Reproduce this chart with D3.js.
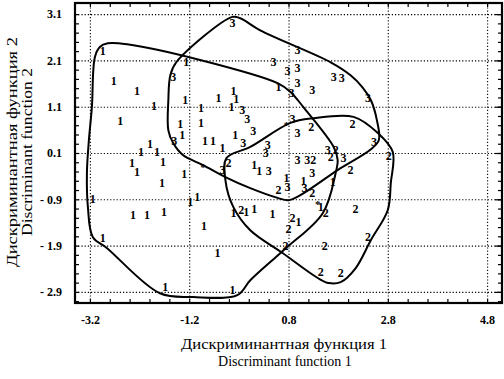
<!DOCTYPE html>
<html>
<head>
<meta charset="utf-8">
<script src="https://cdn.jsdelivr.net/npm/d3@7"></script>
<style>
  body { margin: 0; background: #fff; }
  text { font-family: "Liberation Serif", "DejaVu Serif", serif; }
</style>
</head>
<body>
<div class="chart"></div>
<script>
var svgWidth = 504;
var svgHeight = 379;

// tick values and labels
var xTicks = [-3.2, -1.2, 0.8, 2.8, 4.8];
var xTickLabels = ["-3.2", "-1.2", "0.8", "2.8", "4.8"];
var yTicks = [3.1, 2.1, 1.1, 0.1, -0.9, -1.9, -2.9];
var yTickLabels = ["3.1", "2.1", "1.1", "0.1", "- 0.9", "- 1.9", "- 2.9"];

// group 1 observations [x, y]
var group1 = [
  [-2.94, 2.30], [-2.72, 1.65], [-2.25, 1.44], [-1.91, 1.11], [-1.28, 1.24],
  [-1.26, 2.06], [-2.59, 0.79], [-1.38, 0.72], [-1.34, 0.49], [-0.96, 1.07],
  [-0.96, 0.75], [-0.61, 1.29], [-0.31, 1.44], [-0.25, 1.26], [-0.35, 1.09],
  [-0.88, 0.36], [-0.72, 0.36], [-0.53, 0.21], [-0.27, 0.49], [-2.17, 0.12],
  [-1.99, 0.29], [-1.85, 0.12], [-2.35, -0.12], [-2.25, -0.31], [-1.73, -0.10],
  [-1.30, -0.36], [-1.75, -0.55], [-3.14, -0.90], [-1.18, -0.96], [-1.04, -0.85],
  [-2.33, -1.24], [-2.05, -1.24], [-1.71, -1.18], [-0.90, -1.48], [-2.94, -1.74],
  [-0.63, -2.06], [-1.68, -2.80], [-0.33, -2.86], [-0.31, -1.20], [-0.05, -1.16],
  [0.11, -1.11], [0.11, -0.16], [0.21, -0.29], [0.60, 1.54], [0.76, -0.44],
  [1.10, -0.49], [0.48, -1.22], [1.00, -1.39], [1.45, -1.07], [1.69, -0.53]
];

// group 2 observations
var group2 = [
  [1.26, 0.66], [2.09, 0.72], [2.82, 0.03], [-0.41, -0.12], [1.75, 0.16],
  [1.30, -0.05], [1.65, 0.01], [2.05, -0.27], [0.60, -0.70], [1.28, -0.77],
  [1.55, -1.20], [2.15, -1.11], [-0.15, -1.13], [0.88, -1.31], [0.80, -1.54],
  [0.74, -1.91], [1.53, -1.91], [2.40, -1.72], [1.45, -2.47], [1.85, -2.49]
];

// group 3 observations
var group3 = [
  [-0.33, 2.91], [0.98, 2.32], [0.50, 2.08], [0.78, 1.87], [0.98, 1.93],
  [1.71, 1.74], [1.87, 1.72], [0.98, 1.61], [1.28, 1.46], [0.86, 1.39],
  [2.40, 1.29], [-1.52, 1.74], [-0.13, 1.03], [-0.03, 0.83], [0.09, 0.59],
  [-1.50, 0.36], [-0.11, 0.31], [0.88, 0.83], [0.98, 0.53], [0.38, 0.27],
  [0.34, 0.10], [0.98, -0.05], [1.18, -0.05], [1.59, 0.16], [1.91, -0.01],
  [2.52, 0.34], [0.78, -0.64], [1.12, -0.66], [1.28, -0.33], [0.40, -0.29],
  [-0.53, -0.27]
];

// group centroids
var centroids = [[-0.92, -0.14], [0.76, 0.77], [1.39, -0.94]];

// outlines round each group
var hull1 = [
  [-3.00, 2.39], [-2.84, 2.47], [-2.45, 2.45], [-0.98, 2.11], [0.58, 1.61],
  [0.84, 1.42], [1.10, 1.09], [1.71, 0.23], [1.79, -0.05], [1.75, -0.33],
  [1.49, -1.20], [0.70, -2.00], [0.03, -2.65], [-0.23, -2.97], [-1.12, -3.01],
  [-1.79, -2.93], [-2.86, -1.95], [-3.14, -1.72], [-3.24, -1.07], [-3.26, -0.33],
  [-3.22, 0.38], [-3.16, 1.09], [-3.10, 2.17]
];
var hull2 = [
  [-0.45, -0.01], [0.03, 0.23], [0.84, 0.75], [1.30, 0.85], [2.11, 0.88],
  [2.60, 0.53], [2.90, 0.12], [2.86, -0.55], [2.80, -1.13], [2.46, -1.78],
  [2.15, -2.39], [1.85, -2.69], [1.61, -2.71], [1.39, -2.60], [0.68, -2.06],
  [0.03, -1.57], [-0.31, -1.07], [-0.47, -0.49]
];
var hull3 = [
  [-0.33, 3.04], [-0.17, 3.01], [0.23, 2.75], [1.65, 2.06], [2.05, 1.78],
  [2.29, 1.52], [2.46, 1.24], [2.58, 0.81], [2.62, 0.38], [2.46, 0.18],
  [1.79, -0.27], [1.04, -0.81], [0.80, -0.92], [0.58, -0.87], [0.03, -0.66],
  [-0.47, -0.42], [-0.92, -0.16], [-1.32, 0.05], [-1.52, 0.31], [-1.62, 0.59],
  [-1.62, 1.24], [-1.58, 1.78], [-1.46, 2.06]
];

var margin = { top: 3, right: 2, bottom: 76, left: 75 };
var width = svgWidth - margin.left - margin.right;
var height = svgHeight - margin.top - margin.bottom;

var svg = d3.select(".chart")
  .append("svg")
  .attr("width", svgWidth)
  .attr("height", svgHeight);

var chartGroup = svg.append("g")
  .attr("transform", `translate(${margin.left}, ${margin.top})`);

var xScale = d3.scaleLinear().domain([-3.5, 5.1]).range([0, width]);
var yScale = d3.scaleLinear().domain([-3.14, 3.34]).range([height, 0]);

// dotted grid
chartGroup.append("g")
  .attr("transform", `translate(0, ${height})`)
  .call(d3.axisBottom(xScale).tickValues(xTicks).tickSize(-height).tickFormat(""))
  .call(g => g.select(".domain").remove())
  .selectAll("line")
  .attr("stroke", "#000")
  .attr("stroke-width", 1.1)
  .attr("stroke-dasharray", "1.2,2");

chartGroup.append("g")
  .call(d3.axisLeft(yScale).tickValues(yTicks).tickSize(-width).tickFormat(""))
  .call(g => g.select(".domain").remove())
  .selectAll("line")
  .attr("stroke", "#000")
  .attr("stroke-width", 1.1)
  .attr("stroke-dasharray", "1.2,2");

// minor ticks inside the frame
var xMinor = d3.range(-3.2, 5.0, 0.4);
var yMinor = d3.range(-3.1, 3.3, 0.2);

function tickLines(axis) {
  return g => {
    g.call(axis);
    g.select(".domain").remove();
    g.selectAll("line").attr("stroke", "#000").attr("stroke-width", 1.2);
  };
}

chartGroup.append("g")
  .attr("transform", `translate(0, ${height})`)
  .call(tickLines(d3.axisBottom(xScale).tickValues(xMinor).tickSize(-4).tickFormat("")));
chartGroup.append("g")
  .call(tickLines(d3.axisTop(xScale).tickValues(xMinor).tickSize(-4).tickFormat("")));
chartGroup.append("g")
  .call(tickLines(d3.axisLeft(yScale).tickValues(yMinor).tickSize(-4).tickFormat("")));
chartGroup.append("g")
  .attr("transform", `translate(${width}, 0)`)
  .call(tickLines(d3.axisRight(yScale).tickValues(yMinor).tickSize(-4).tickFormat("")));
chartGroup.append("g")
  .attr("transform", `translate(${width}, 0)`)
  .call(tickLines(d3.axisRight(yScale).tickValues(yTicks).tickSize(-7).tickFormat("")));

// tick labels
var xAxis = chartGroup.append("g")
  .attr("transform", `translate(0, ${height})`)
  .call(d3.axisBottom(xScale).tickValues(xTicks).tickSize(0).tickPadding(12)
    .tickFormat((d, i) => xTickLabels[i]));
xAxis.select(".domain").remove();
xAxis.selectAll("text")
  .style("font-family", "'Liberation Serif', serif")
  .style("font-size", "12px")
  .style("font-weight", "bold")
  .attr("fill", "#000");

var yAxis = chartGroup.append("g")
  .call(d3.axisLeft(yScale).tickValues(yTicks).tickSize(0).tickPadding(13)
    .tickFormat((d, i) => yTickLabels[i]));
yAxis.select(".domain").remove();
yAxis.selectAll("text")
  .style("font-family", "'Liberation Serif', serif")
  .style("font-size", "12px")
  .style("font-weight", "bold")
  .attr("fill", "#000");

// group outlines
var outline = d3.line()
  .x(d => xScale(d[0]))
  .y(d => yScale(d[1]))
  .curve(d3.curveCatmullRomClosed.alpha(0.5));

chartGroup.selectAll(".hull")
  .data([hull1, hull2, hull3])
  .enter()
  .append("path")
  .attr("class", "hull")
  .attr("d", outline)
  .attr("fill", "none")
  .attr("stroke", "#000")
  .attr("stroke-width", 2);

// point labels
var groups = [
  { label: "1", pts: group1 },
  { label: "2", pts: group2 },
  { label: "3", pts: group3 }
];

groups.forEach(function(grp) {
  chartGroup.selectAll(".pt" + grp.label)
    .data(grp.pts)
    .enter()
    .append("text")
    .attr("class", "pt" + grp.label)
    .attr("x", d => xScale(d[0]))
    .attr("y", d => yScale(d[1]))
    .attr("dy", "0.35em")
    .attr("text-anchor", "middle")
    .style("font-size", "12px")
    .style("font-weight", "bold")
    .text(grp.label);
});

chartGroup.selectAll(".centroid")
  .data(centroids)
  .enter()
  .append("text")
  .attr("x", d => xScale(d[0]))
  .attr("y", d => yScale(d[1]))
  .attr("dy", "0.6em")
  .attr("text-anchor", "middle")
  .style("font-size", "11px")
  .style("font-weight", "bold")
  .text("*");

// frame
chartGroup.append("rect")
  .attr("x", 0)
  .attr("y", 0)
  .attr("width", width)
  .attr("height", height)
  .attr("fill", "none")
  .attr("stroke", "#000")
  .attr("stroke-width", 2.2);

// axis titles
svg.append("text")
  .attr("x", 284)
  .attr("y", 349)
  .attr("text-anchor", "middle")
  .attr("textLength", 206)
  .attr("lengthAdjust", "spacingAndGlyphs")
  .style("font-size", "14px")
  .text("Дискриминантная функция 1");
svg.append("text")
  .attr("x", 285)
  .attr("y", 366)
  .attr("text-anchor", "middle")
  .style("font-size", "14px")
  .text("Discriminant function 1");

svg.append("text")
  .attr("transform", "translate(17, 152) rotate(-90)")
  .attr("text-anchor", "middle")
  .attr("textLength", 230)
  .attr("lengthAdjust", "spacingAndGlyphs")
  .style("font-size", "15px")
  .text("Дискриминантная функция 2");
svg.append("text")
  .attr("transform", "translate(32, 152) rotate(-90)")
  .attr("text-anchor", "middle")
  .attr("textLength", 168)
  .attr("lengthAdjust", "spacingAndGlyphs")
  .style("font-size", "15px")
  .text("Discriminant function 2");
</script>
</body>
</html>
